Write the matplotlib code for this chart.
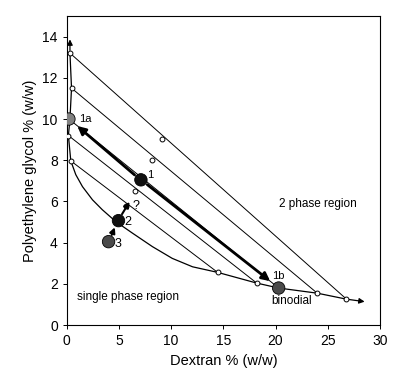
import matplotlib
matplotlib.use("Agg")
import matplotlib.pyplot as plt
import numpy as np

plt.rcParams['font.family'] = ['Liberation Sans', 'DejaVu Sans']

# binodial curve
binodial_x = [0.3, 0.3, 0.45, 0.3, 0.15, 0.38, 0.86, 1.5, 2.46, 3.4, 4.7, 6.3, 8.2, 10.1, 12.05, 14.45,
              18.2, 20.3, 24.0, 26.8, 28.8]
binodial_y = [14.0, 13.2, 11.5, 10.0, 9.2, 7.97, 7.3, 6.72, 6.08, 5.6, 5.02, 4.46, 3.81, 3.24, 2.83, 2.56,
              2.04, 1.8, 1.55, 1.26, 1.12]

# tie lines: top phase (left) and bottom phase (right)
tie_left_x = [0.3, 0.45, 0.2, 0.15, 0.38]
tie_left_y = [13.2, 11.5, 10.0, 9.2, 7.97]
tie_right_x = [26.8, 24.0, 20.3, 18.2, 14.45]
tie_right_y = [1.26, 1.55, 1.8, 2.04, 2.56]

# open circles (midpoint compositions)
mid_x = [9.1, 8.15, 6.5, 5.7]
mid_y = [9.04, 8.02, 6.5, 5.8]

# labelled systems
pt_names = ['1', '1a', '1b', '2', '3']
pt_x = [7.1, 0.2, 20.3, 4.95, 4.0]
pt_y = [7.05, 10.0, 1.8, 5.07, 4.05]
pt_col = ['#111111', '#808080', '#4a4a4a', '#111111', '#4a4a4a']

fig = plt.figure(figsize=(4.05, 3.72), dpi=100)
ax = fig.add_axes([0.165, 0.126, 0.773, 0.831])

# thin tie lines
for i in range(len(tie_left_x)):
    ax.plot([tie_left_x[i], tie_right_x[i]], [tie_left_y[i], tie_right_y[i]],
            color='black', lw=0.7, zorder=2)

# binodial with arrows at both ends
ax.plot(binodial_x[1:-1], binodial_y[1:-1], color='black', lw=0.9, zorder=2)
ax.annotate('', xy=(binodial_x[0], binodial_y[0]), xytext=(binodial_x[1], binodial_y[1]),
            arrowprops=dict(arrowstyle='-|>', color='black', lw=0.9, mutation_scale=8))
ax.annotate('', xy=(binodial_x[-1], binodial_y[-1]), xytext=(binodial_x[-2], binodial_y[-2]),
            arrowprops=dict(arrowstyle='-|>', color='black', lw=0.9, mutation_scale=8))

# small open circles
circ = dict(ms=3.5, mfc='white', mec='black', mew=0.7, zorder=3, ls='none', marker='o')
ax.plot(tie_left_x, tie_left_y, **circ)
ax.plot(tie_right_x[:2] + tie_right_x[3:], tie_right_y[:2] + tie_right_y[3:], **circ)
ax.plot(mid_x, mid_y, **circ)

# thick arrows from 1 to 1a and 1b
ax.annotate('', xy=(pt_x[1] + 0.6, pt_y[1] - 0.25), xytext=(pt_x[0] - 0.4, pt_y[0] + 0.15),
            arrowprops=dict(arrowstyle='-|>', color='black', lw=2.0, mutation_scale=12))
ax.annotate('', xy=(pt_x[2] - 0.6, pt_y[2] + 0.25), xytext=(pt_x[0] + 0.4, pt_y[0] - 0.15),
            arrowprops=dict(arrowstyle='-|>', color='black', lw=2.0, mutation_scale=12))

# arrow from 3 to 2 and from 2 towards "?"
ax.annotate('', xy=(pt_x[3] - 0.25, pt_y[3] - 0.2), xytext=(pt_x[4] + 0.2, pt_y[4] + 0.2),
            arrowprops=dict(arrowstyle='-|>', color='black', lw=1.5, mutation_scale=8))
ax.annotate('', xy=(6.15, 6.1), xytext=(pt_x[3] + 0.2, pt_y[3] + 0.2),
            arrowprops=dict(arrowstyle='-|>', color='black', lw=1.5, mutation_scale=8))

ax.scatter(pt_x, pt_y, s=80, c=pt_col, edgecolors='black', linewidths=0.6, zorder=5)

ax.text(7.7, 7.3, '1', fontsize=8, va='center')
ax.text(1.15, 10.0, '1a', fontsize=8, va='center')
ax.text(20.3, 2.4, '1b', fontsize=8, ha='center', va='center')
ax.text(21.5, 1.17, 'binodial', fontsize=8.5, ha='center', va='center')
ax.text(5.5, 5.0, '2', fontsize=9, va='center')
ax.text(4.6, 3.94, '3', fontsize=9, va='center')
ax.text(6.3, 5.8, '?', fontsize=9, va='center')
ax.text(24.1, 5.9, '2 phase region', fontsize=8.5, ha='center', va='center')
ax.text(5.85, 1.36, 'single phase region', fontsize=8.5, ha='center', va='center')

ax.set_xlim(0, 30)
ax.set_ylim(0, 15)
ax.set_xticks([0, 5, 10, 15, 20, 25, 30])
ax.set_yticks([0, 2, 4, 6, 8, 10, 12, 14])
ax.tick_params(direction='out', length=3, width=0.7, labelsize=10)
for s in ax.spines.values():
    s.set_linewidth(0.8)
ax.set_xlabel('Dextran % (w/w)', fontsize=10.5)
ax.set_ylabel('Polyethylene glycol % (w/w)', fontsize=10.5)

fig.savefig('out.png', dpi=100)
